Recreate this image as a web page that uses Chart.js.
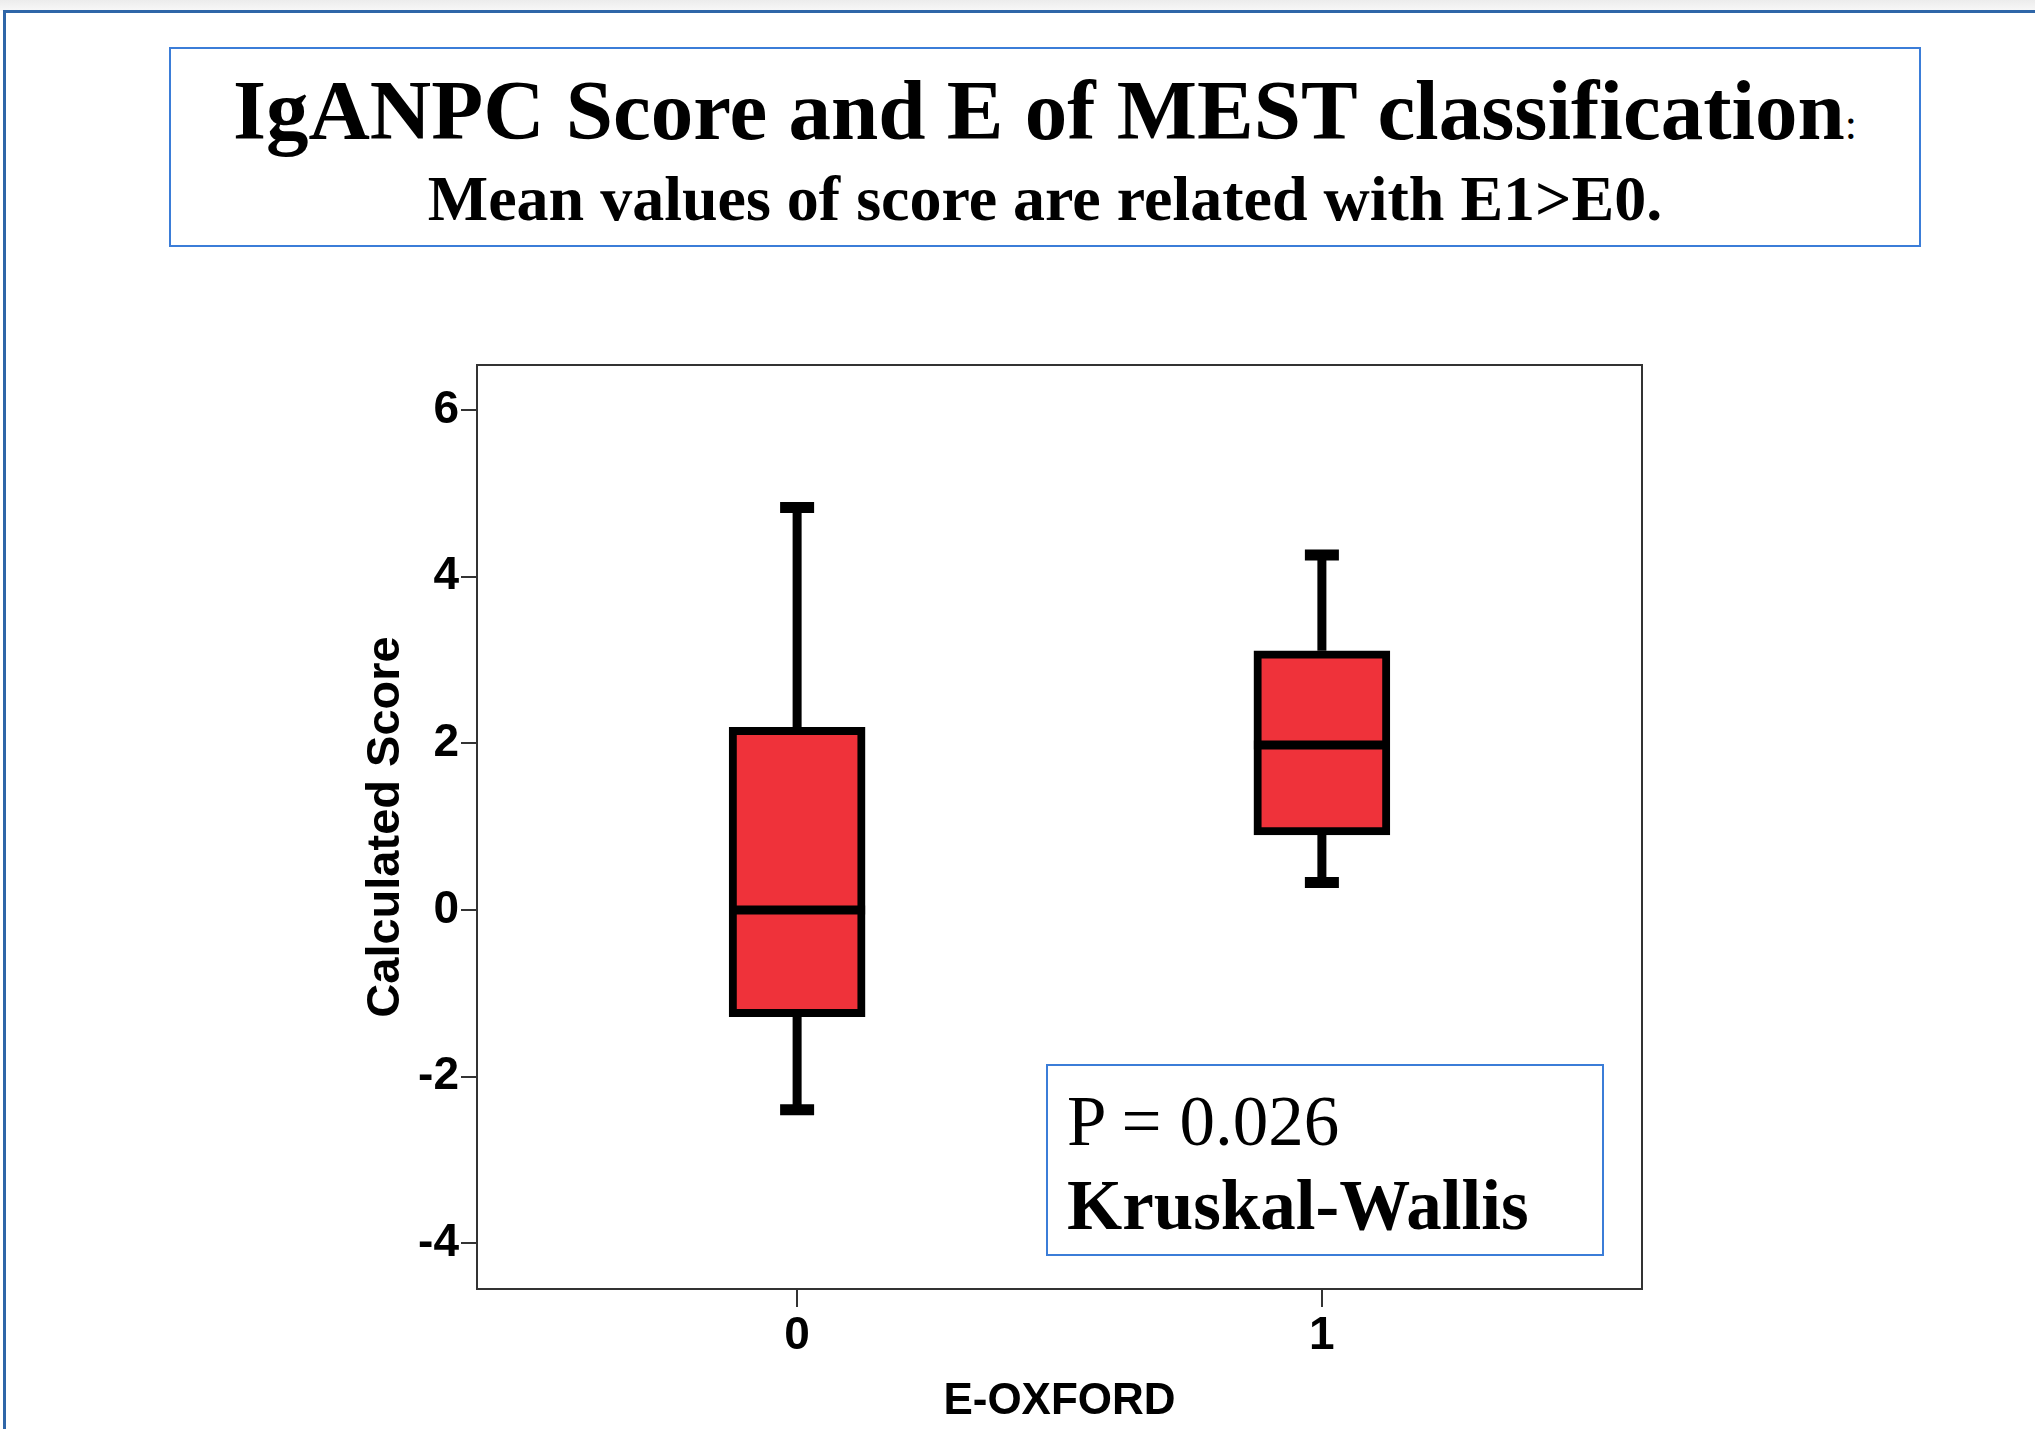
<!DOCTYPE html>
<html>
<head>
<meta charset="utf-8">
<script src="https://cdn.jsdelivr.net/npm/chart.js@4"></script>
<style>
  html, body { margin: 0; padding: 0; background: #fff; }
  body { width: 2035px; height: 1429px; position: relative; overflow: hidden; }
  #topbar { position: absolute; left: 0; top: 0; width: 2035px; height: 11px; background: linear-gradient(#ececec, #f8f8f8); }
  #frame { position: absolute; left: 3px; top: 10px; width: 2100px; height: 1500px; border-top: 3px solid #2f66a8; border-left: 3px solid #2f66a8; box-sizing: border-box; }
  #titlebox { position: absolute; left: 169px; top: 47px; width: 1752px; height: 200px; border: 2px solid #3b7dd8; box-sizing: border-box; text-align: center; font-family: "Liberation Serif", "Times New Roman", serif; color: #000; }
  #title { position: absolute; left: 0; right: 0; top: 19px; font-size: 85px; font-weight: bold; line-height: 1; white-space: nowrap; }
  #title span { font-weight: normal; font-size: 44px; }
  #subtitle { position: absolute; left: 0; right: 0; top: 118px; font-size: 64px; font-weight: bold; line-height: 1; white-space: nowrap; }
  #chart { position: absolute; left: 0; top: 0; }
  #pbox { position: absolute; left: 1046px; top: 1064px; width: 558px; height: 192px; border: 2px solid #3b7dd8; box-sizing: border-box; font-family: "Liberation Serif", "Times New Roman", serif; color: #000; background: #fff; }
  #pbox .p { position: absolute; left: 19px; top: 20px; font-size: 71px; line-height: 1; }
  #pbox .k { position: absolute; left: 19px; top: 104px; font-size: 71px; font-weight: bold; line-height: 1; }
</style>
</head>
<body>
<div id="topbar"></div>
<div id="frame"></div>
<div id="titlebox">
  <div id="title">IgANPC Score and E of MEST classification<span>:</span></div>
  <div id="subtitle">Mean values of score are related with E1&gt;E0.</div>
</div>
<canvas id="chart" width="2035" height="1429"></canvas>
<div id="pbox"><div class="p">P = 0.026</div><div class="k">Kruskal-Wallis</div></div>
<script>
// E-OXFORD groups and their box-plot values (Calculated Score)
const categories = ['0', '1'];
const xPositions = [0, 1];
const mins = [-2.40, 0.33];
const q1s = [-1.28, 0.90];
const medians = [0, 1.98];
const q3s = [2.19, 3.11];
const maxs = [4.83, 4.26];
const yTicks = [-4, -2, 0, 2, 4, 6];

const boxData = xPositions.map((x, i) => ({ x: x, y: [q1s[i], q3s[i]] }));

// whiskers, caps, medians and the closed plot frame
const boxExtras = {
  id: 'boxExtras',
  afterDatasetsDraw(chart) {
    const ctx = chart.ctx;
    const xs = chart.scales.x;
    const ys = chart.scales.y;
    const bars = chart.getDatasetMeta(0).data;
    ctx.save();
    ctx.strokeStyle = '#000';
    ctx.lineCap = 'butt';
    xPositions.forEach((xv, i) => {
      const cx = xs.getPixelForValue(xv);
      const yMin = ys.getPixelForValue(mins[i]);
      const yQ1 = ys.getPixelForValue(q1s[i]);
      const yMed = ys.getPixelForValue(medians[i]);
      const yQ3 = ys.getPixelForValue(q3s[i]);
      const yMax = ys.getPixelForValue(maxs[i]);
      // stems
      ctx.lineWidth = 9;
      ctx.beginPath();
      ctx.moveTo(cx, yQ3); ctx.lineTo(cx, yMax);
      ctx.moveTo(cx, yQ1); ctx.lineTo(cx, yMin);
      ctx.stroke();
      // caps
      ctx.lineWidth = 11;
      ctx.beginPath();
      ctx.moveTo(cx - 17, yMax); ctx.lineTo(cx + 17, yMax);
      ctx.moveTo(cx - 17, yMin); ctx.lineTo(cx + 17, yMin);
      ctx.stroke();
      // median
      const bw = bars[i].width;
      ctx.lineWidth = 9;
      ctx.beginPath();
      ctx.moveTo(cx - bw / 2, yMed); ctx.lineTo(cx + bw / 2, yMed);
      ctx.stroke();
    });
    const a = chart.chartArea;
    ctx.strokeStyle = '#333';
    ctx.lineWidth = 2;
    ctx.strokeRect(a.left, a.top, a.right - a.left, a.bottom - a.top);
    ctx.restore();
  }
};

Chart.defaults.font.family = '"Liberation Sans", Arial, sans-serif';
Chart.defaults.color = '#000';

new Chart(document.getElementById('chart'), {
  type: 'bar',
  data: {
    datasets: [{
      data: boxData,
      backgroundColor: '#ef323a',
      borderColor: '#000',
      borderWidth: 8,
      borderSkipped: false,
      barThickness: 136
    }]
  },
  options: {
    responsive: false,
    animation: false,
    layout: { padding: { left: 340, top: 365, right: 393, bottom: 0 } },
    plugins: { legend: { display: false }, tooltip: { enabled: false } },
    scales: {
      x: {
        type: 'linear',
        min: -0.61,
        max: 1.61,
        offset: false,
        afterBuildTicks: (scale) => { scale.ticks = xPositions.map(v => ({ value: v })); },
        afterFit: (scale) => { scale.height = 140; },
        ticks: {
          callback: (v) => categories[xPositions.indexOf(v)],
          font: { size: 46, weight: 'bold' },
          padding: 2,
          maxRotation: 0
        },
        grid: { offset: false, drawOnChartArea: false, drawTicks: true, tickLength: 18, tickColor: '#333', lineWidth: 2 },
        border: { display: false },
        title: { display: true, text: 'E-OXFORD', font: { size: 44, weight: 'bold' }, padding: { top: 0, bottom: 1 } }
      },
      y: {
        min: -4.55,
        max: 6.54,
        afterBuildTicks: (scale) => { scale.ticks = yTicks.map(v => ({ value: v })); },
        afterFit: (scale) => { scale.width = 137; },
        ticks: { font: { size: 46, weight: 'bold' }, padding: 2 },
        grid: { drawOnChartArea: false, drawTicks: true, tickLength: 16, tickColor: '#333', lineWidth: 2 },
        border: { display: false },
        title: { display: true, text: 'Calculated Score', font: { size: 47, weight: 'bold' }, padding: { top: 18, bottom: 0 } }
      }
    }
  },
  plugins: [boxExtras]
});
</script>
</body>
</html>
